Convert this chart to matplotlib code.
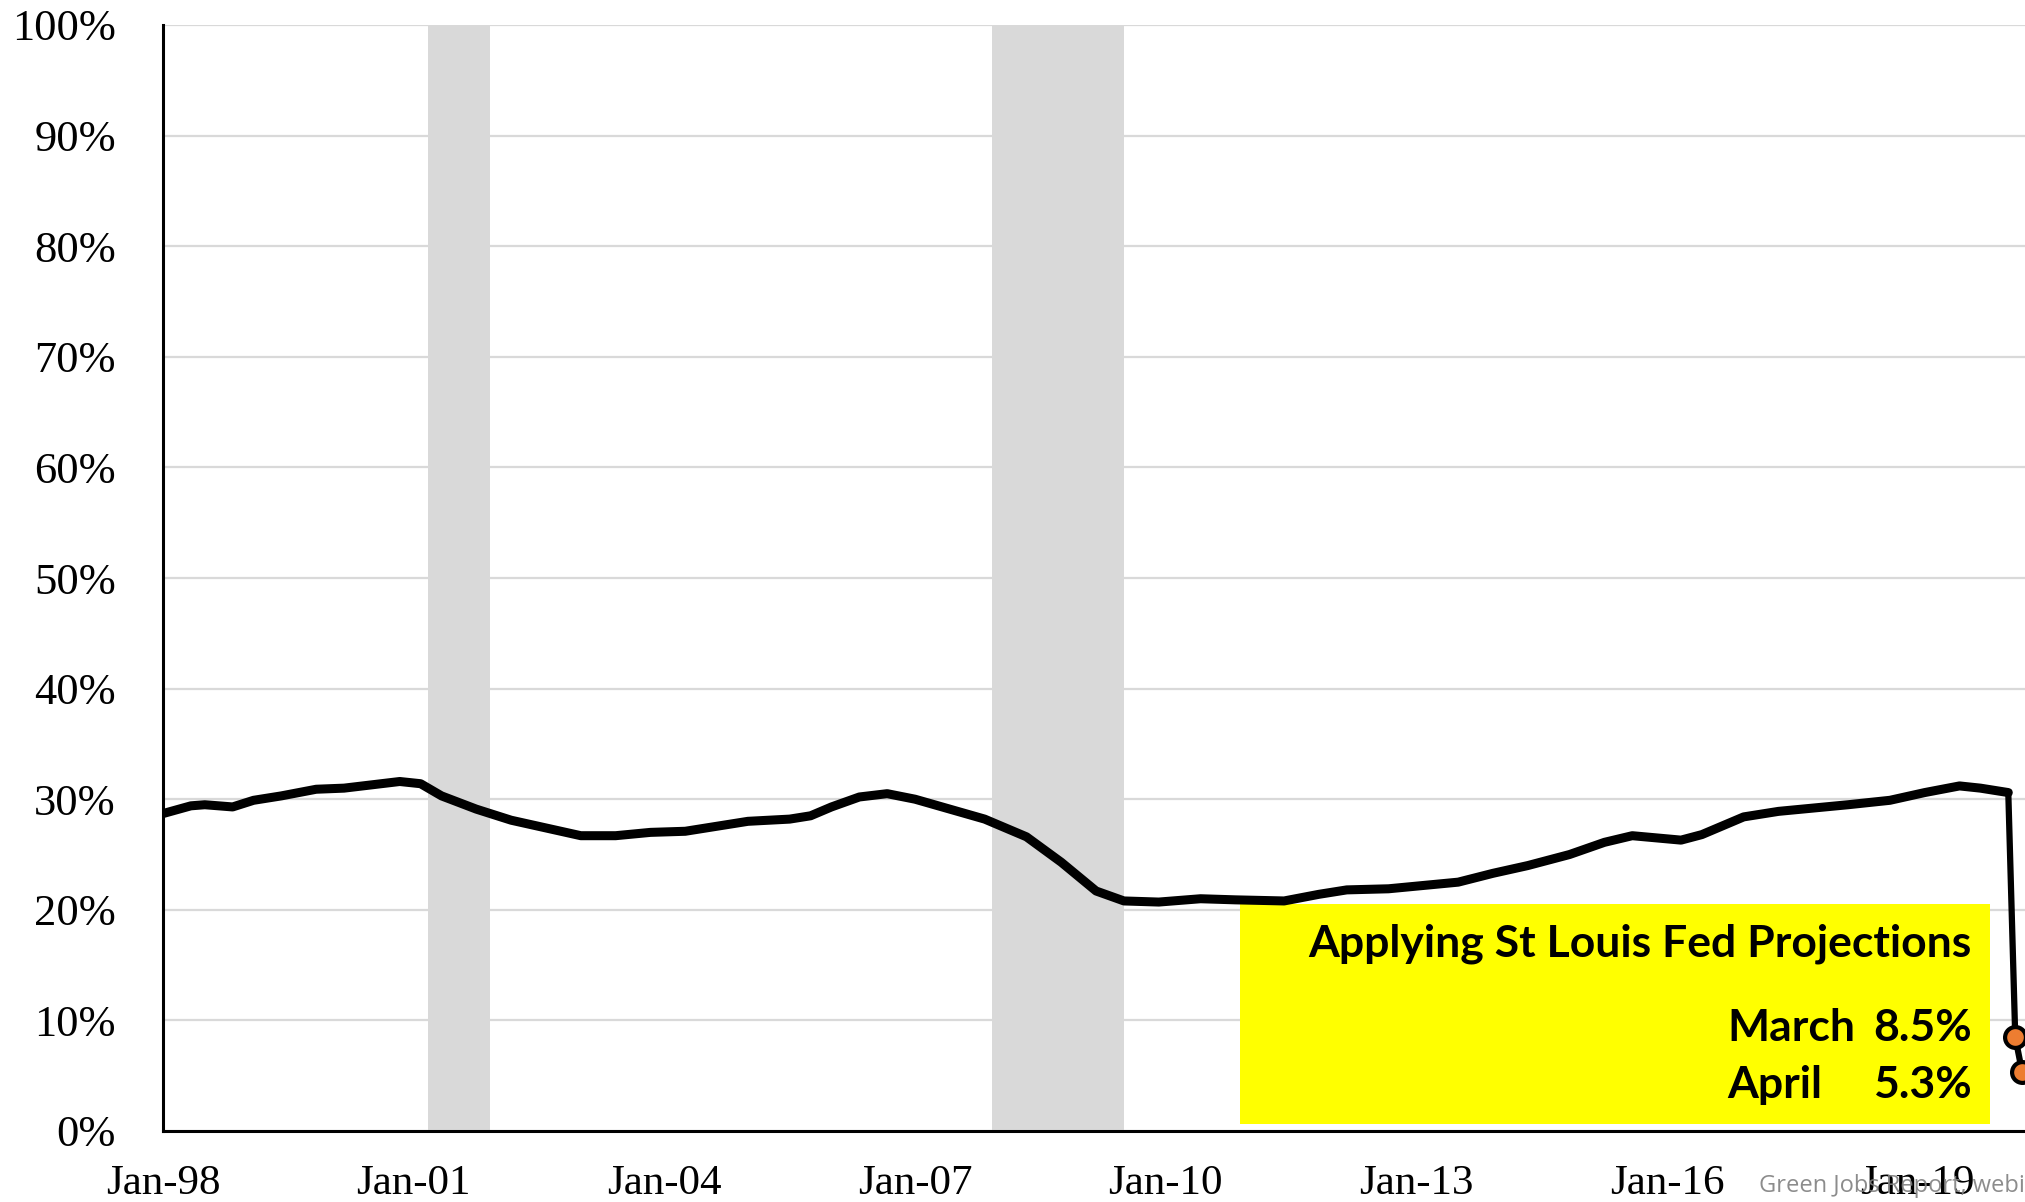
import matplotlib
matplotlib.use("Agg")
import matplotlib.pyplot as plt
import matplotlib.ticker as mticker

# ---------------------------------------------------------------------------
# Data (months counted from Jan-98 = 0)
# ---------------------------------------------------------------------------
MONTHS = [0, 4, 6, 10, 13, 17, 22, 26, 30, 34, 37, 40, 45, 50, 55, 60, 65,
          70, 75, 79, 84, 90, 93, 96, 100, 104, 108, 113, 118, 124, 129, 134,
          138, 143, 149, 154, 161, 166, 170, 176, 181, 186, 191, 196, 202,
          207, 211, 218, 221, 227, 232, 237, 242, 248, 253, 258, 261, 265]
SHARE = [28.7, 29.4, 29.5, 29.3, 29.9, 30.3, 30.9, 31.0, 31.3, 31.6, 31.4,
         30.3, 29.1, 28.1, 27.4, 26.7, 26.7, 27.0, 27.1, 27.5, 28.0, 28.2,
         28.5, 29.3, 30.2, 30.5, 30.0, 29.1, 28.2, 26.6, 24.3, 21.7, 20.8,
         20.7, 21.0, 20.9, 20.8, 21.4, 21.8, 21.9, 22.2, 22.5, 23.3, 24.0,
         25.0, 26.1, 26.7, 26.3, 26.8, 28.4, 28.9, 29.2, 29.5, 29.9, 30.6,
         31.2, 31.0, 30.6]

# St Louis Fed projections: Feb-20 (last actual), Mar-20, Apr-20
PROJ_MONTHS = [265, 266, 267]
PROJ_SHARE = [30.6, 8.5, 5.3]

# Recessions (NBER): Mar-01..Nov-01, Dec-07..Jun-09
RECESSIONS = [(38, 47), (119, 138)]

TICK_MONTHS = [0, 36, 72, 108, 144, 180, 216, 252]
TICK_LABELS = ["Jan-98", "Jan-01", "Jan-04", "Jan-07", "Jan-10", "Jan-13",
               "Jan-16", "Jan-19"]

BOX_TITLE = "Applying St Louis Fed Projections"
BOX_ROWS = [("March", "8.5%"), ("April", "5.3%")]

# ---------------------------------------------------------------------------
# Plot
# ---------------------------------------------------------------------------
W, H = 2025, 1202
fig = plt.figure(figsize=(W / 100, H / 100), dpi=100)
ax = fig.add_axes([163 / W, 1 - 1131 / H, 1 - 163 / W, (1131 - 25) / H])

for start, end in RECESSIONS:
    ax.axvspan(start, end, color="#d9d9d9", lw=0, zorder=1)

ax.plot(MONTHS, SHARE, color="black", lw=6.5, solid_capstyle="round",
        solid_joinstyle="round", zorder=4)
ax.plot(PROJ_MONTHS, PROJ_SHARE, color="black", lw=4.5,
        solid_joinstyle="round", zorder=4)
ax.plot(PROJ_MONTHS[1:], PROJ_SHARE[1:], ls="none", marker="o", ms=15,
        mfc="#ED7D31", mec="black", mew=3, zorder=5)

ax.set_xlim(0, 267.4)
ax.set_ylim(0, 100)
ax.set_yticks(range(0, 101, 10))
ax.yaxis.set_major_formatter(mticker.FuncFormatter(lambda v, _: f"{v:.0f}%"))
ax.set_xticks(TICK_MONTHS)
ax.set_xticklabels(TICK_LABELS)
ax.grid(axis="y", color="#d9d9d9", lw=1.6, zorder=0)
ax.set_axisbelow(True)

for s in ("top", "right"):
    ax.spines[s].set_visible(False)
for s in ("left", "bottom"):
    ax.spines[s].set_linewidth(2.2)
    ax.spines[s].set_zorder(6)
ax.tick_params(length=0, labelsize=31, pad=0)
ax.tick_params(axis="y", labelsize=32, pad=34)
ax.tick_params(axis="x", pad=24)
for lab in ax.get_xticklabels() + ax.get_yticklabels():
    lab.set_fontfamily("Liberation Serif")

# yellow callout box
bx0, bx1, by0, by1 = 1240, 1990, 904, 1124
box = plt.Rectangle((bx0 / W, 1 - by1 / H), (bx1 - bx0) / W, (by1 - by0) / H,
                    transform=fig.transFigure, color="#FFFF00", lw=0, zorder=3)
ax.add_artist(box)
box.set_clip_on(False)

font = dict(family="Lato", weight="bold", size=32, color="black")
fig.text(1972 / W, 1 - 944 / H, BOX_TITLE, ha="right", va="center", **font)
for i, (name, val) in enumerate(BOX_ROWS):
    y = 1 - (1028 + i * 57) / H
    fig.text(1727 / W, y, name, ha="left", va="center", **font)
    fig.text(1972 / W, y, val, ha="right", va="center", **font)

fig.text(1759 / W, 1 - 1186 / H, "Green Jobs Report, webinar", ha="left",
         va="center", family="Open Sans", size=17, color="#808080", alpha=0.9)

fig.savefig("out.png", dpi=100)
